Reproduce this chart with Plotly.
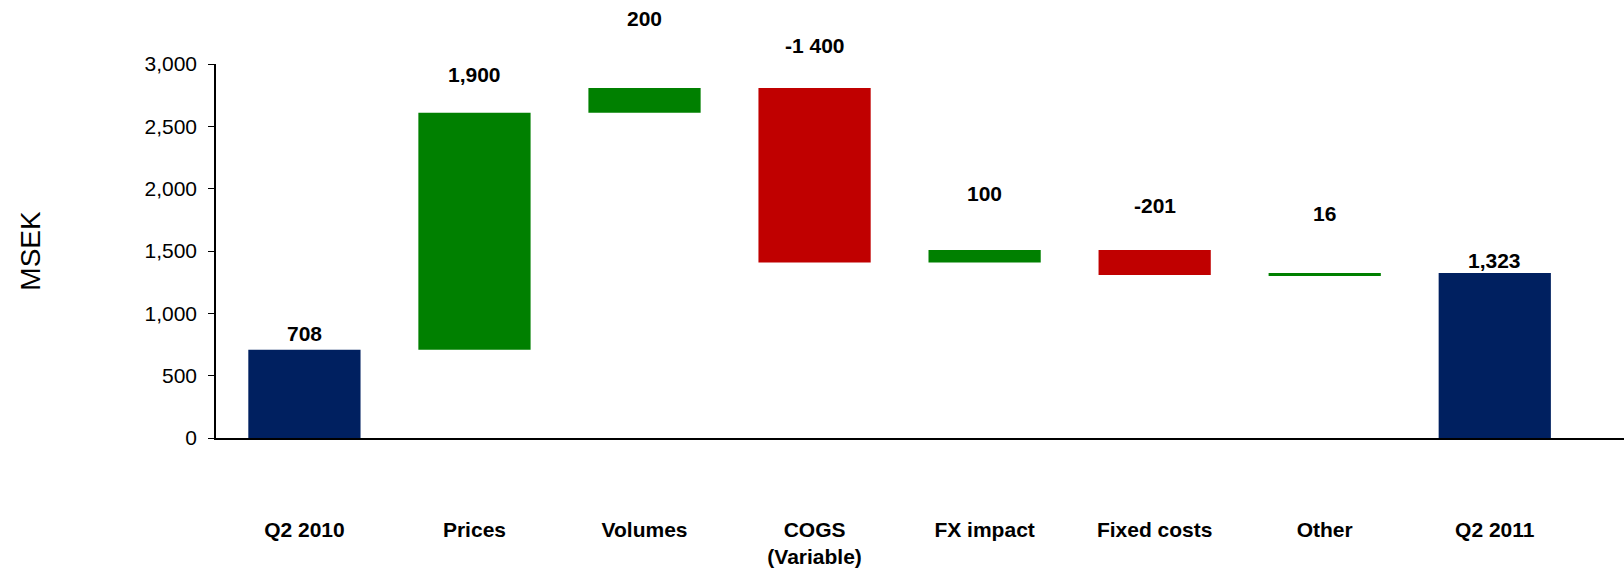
import plotly.graph_objects as go

# Bridge from Q2 2010 to Q2 2011 result (MSEK)
categories = ["Q2 2010", "Prices", "Volumes", "COGS<br>(Variable)",
              "FX impact", "Fixed costs", "Other", "Q2 2011"]
values = [708, 1900, 200, -1400, 100, -201, 16, 1323]
measures = ["absolute", "relative", "relative", "relative",
            "relative", "relative", "relative", "total"]
value_labels = ["708", "1,900", "200", "-1 400", "100", "-201", "16", "1,323"]

# vertical offset (px) of each value label above its bar top
label_offsets = [16, 38, 69, 42, 57, 45, 60, 13]

GREEN = "#008000"
RED = "#C00000"
NAVY = "#002060"

fig = go.Figure()
fig.add_trace(go.Waterfall(
    x=list(range(len(categories))),
    y=values,
    measure=measures,
    width=0.66,
    increasing=dict(marker=dict(color=GREEN, line=dict(width=0))),
    decreasing=dict(marker=dict(color=RED, line=dict(width=0))),
    totals=dict(marker=dict(color=NAVY, line=dict(width=0))),
    connector=dict(visible=False),
    textinfo="none",
    hoverinfo="x+y",
))

# bar tops for label placement
running = 0
tops = []
for v, m in zip(values, measures):
    if m == "absolute":
        running = v
        tops.append(v)
    elif m == "total":
        tops.append(running)
    else:
        start = running
        running += v
        tops.append(max(start, running))

for i, (txt, top, off) in enumerate(zip(value_labels, tops, label_offsets)):
    fig.add_annotation(
        x=i, y=top, text=txt, showarrow=False,
        yanchor="middle", yshift=off,
        font=dict(family="Liberation Sans, Arial, sans-serif", size=21,
                  color="#000000", weight="bold"),
    )

fig.update_layout(
    width=1624, height=582,
    margin=dict(l=216, r=0, t=64, b=144),
    paper_bgcolor="white", plot_bgcolor="white",
    showlegend=False,
    font=dict(family="Liberation Sans, Arial, sans-serif", color="#000000"),
)

fig.update_xaxes(
    tickmode="array",
    tickvals=list(range(len(categories))),
    ticktext=[f"<b>{c}</b>" for c in categories],
    range=[-0.52, 7.76],
    showline=True, linecolor="#000000", linewidth=1.5,
    ticks="", showgrid=False, zeroline=False,
    ticklabelstandoff=72,
    tickfont=dict(family="Liberation Sans Narrow, Arial Narrow, Liberation Sans, sans-serif",
                  size=21, color="#000000"),
)

fig.update_yaxes(
    range=[0, 3000],
    tickvals=[0, 500, 1000, 1500, 2000, 2500, 3000],
    tickformat=",",
    showline=True, linecolor="#000000", linewidth=1.5,
    ticks="outside", ticklen=6, tickcolor="#000000",
    ticklabelstandoff=7,
    showgrid=False, zeroline=False,
    tickfont=dict(family="Liberation Sans, Arial, sans-serif", size=21, color="#000000"),
    title=dict(text="MSEK", standoff=96,
               font=dict(family="Liberation Sans, Arial, sans-serif", size=28, color="#000000")),
)

fig.write_html("out.html")
